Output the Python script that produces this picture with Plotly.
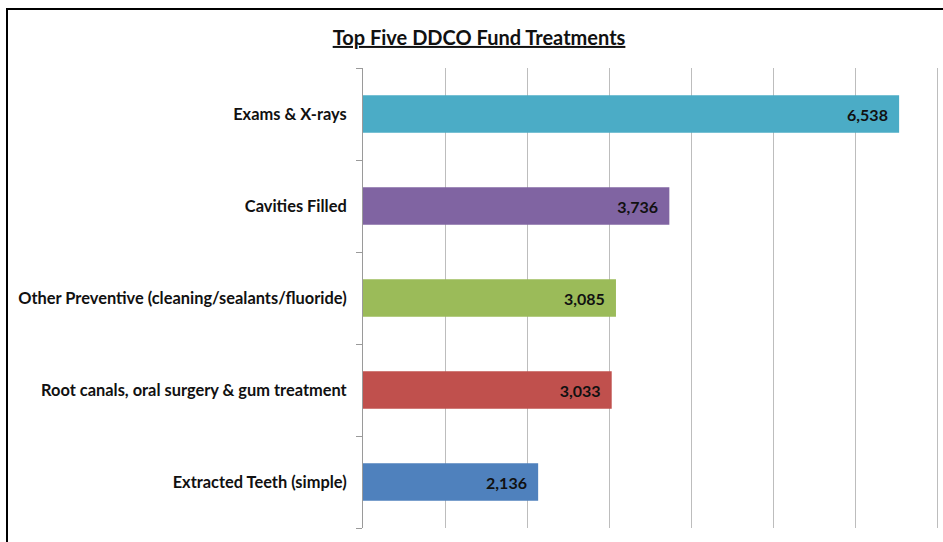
import plotly.graph_objects as go

categories = [
    "Extracted Teeth (simple)",
    "Root canals, oral surgery & gum treatment",
    "Other Preventive (cleaning/sealants/fluoride)",
    "Cavities Filled",
    "Exams & X-rays",
]
values = [2136, 3033, 3085, 3736, 6538]
colors = ["#4F81BD", "#C0504D", "#9BBB59", "#8064A2", "#4BACC6"]
title_text = "Top Five DDCO Fund Treatments"

FONT = "Lato, Liberation Sans, Arial, sans-serif"

fig = go.Figure()
fig.add_trace(go.Bar(
    y=categories,
    x=values,
    orientation="h",
    marker=dict(color=colors, line=dict(width=0)),
    width=0.41,
    texttemplate="<b>%{x:,}</b>\u00a0\u00a0",
    textposition="inside",
    insidetextanchor="end",
    textfont=dict(family=FONT, size=16, color="#111111"),
    constraintext="none",
    hoverinfo="skip",
))

fig.update_layout(
    width=943,
    height=542,
    margin=dict(l=363, r=4, t=68, b=14),
    paper_bgcolor="white",
    plot_bgcolor="white",
    showlegend=False,
    title=dict(
        text="<b><u>" + title_text + "</u></b>",
        x=0.508,
        xanchor="center",
        y=0.93,
        yanchor="middle",
        font=dict(family=FONT, size=20, color="#111111"),
    ),
    xaxis=dict(
        range=[0, 7000 * 576 / 574],
        tickvals=[1000, 2000, 3000, 4000, 5000, 6000, 7000],
        showgrid=True,
        gridcolor="#BDBDBD",
        gridwidth=1,
        showticklabels=False,
        zeroline=False,
        showline=False,
        fixedrange=True,
    ),
    yaxis=dict(
        type="category",
        showline=True,
        linecolor="#9A9A9A",
        linewidth=1,
        ticks="outside",
        tickson="boundaries",
        ticklen=6,
        tickcolor="#9A9A9A",
        tickfont=dict(family=FONT, size=16.4, color="#111111"),
        ticklabelstandoff=12,
        showgrid=False,
        fixedrange=True,
    ),
    shapes=[dict(
        type="rect",
        xref="paper", yref="paper",
        x0=(7 - 363) / 576, x1=1.2,
        y0=-0.2, y1=1 + (68 - 9) / 460,
        line=dict(color="black", width=2),
        fillcolor="rgba(0,0,0,0)",
        layer="above",
    )],
)

fig.update_yaxes(tickprefix="<b>", ticksuffix="</b>")

fig.write_html(
    "out.html",
    config={"displayModeBar": False},
    post_script="document.body.style.margin='0';",
)
